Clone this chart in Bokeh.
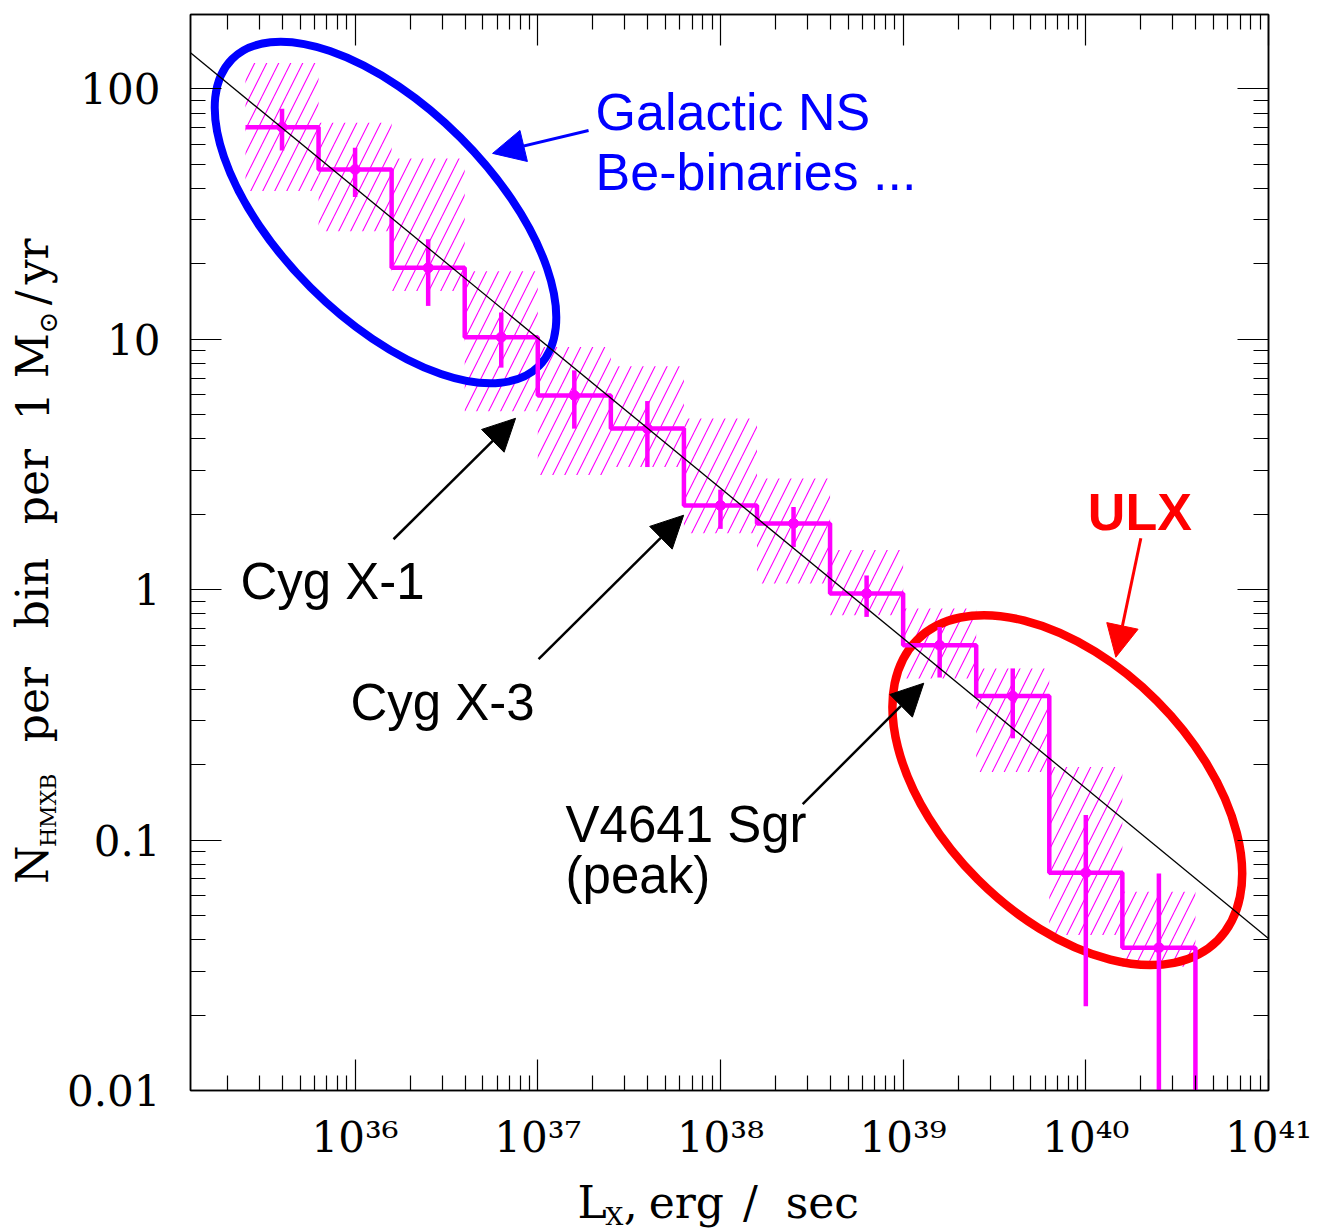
import math
from bokeh.plotting import figure
from bokeh.layouts import row, column
from bokeh.models import (FixedTicker, LogAxis, Label, Arrow, NormalHead,
                          PrintfTickFormatter, CustomJSTickFormatter, Range1d)
from bokeh.embed import file_html
from bokeh.resources import INLINE

# ---------------- data ----------------
bin_edges_log = [35.4, 35.8, 36.2, 36.6, 37.0, 37.4, 37.8, 38.2, 38.6, 39.0, 39.4, 39.8, 40.2, 40.6]
bin_centers_log = [35.6, 36.0, 36.4, 36.8, 37.2, 37.6, 38.0, 38.4, 38.8, 39.2, 39.6, 40.0, 40.4]
n_hmxb = [70.4, 47.7, 19.3, 10.2, 5.97, 4.40, 2.17, 1.84, 0.966, 0.600, 0.376, 0.0741, 0.0372]
err_high = [83.4, 58.2, 25.1, 12.8, 7.52, 5.67, 2.51, 2.14, 1.14, 0.71, 0.485, 0.126, 0.0736]
err_low = [56.8, 37.0, 13.6, 7.71, 4.40, 3.09, 1.75, 1.48, 0.779, 0.446, 0.255, 0.0217, 1e-4]
band_high = [127.0, 73.3, 52.8, 18.7, 9.32, 7.80, 4.83, 2.78, 1.44, 0.841, 0.485, 0.196, 0.0622]
band_low = [39.1, 27.0, 15.6, 5.16, 2.87, 3.09, 1.68, 1.06, 0.79, 0.442, 0.187, 0.0418, 0.0312]
histogram_floor = 1e-4          # histogram drops to zero after the last bin
model_lx = [10 ** 35.099, 1e41]  # power-law model line end points
model_n = [139.5, 0.0405]
x_major_exponents = [36, 37, 38, 39, 40, 41]
y_major_ticks = [0.01, 0.1, 1, 10, 100]

# ---------------- derived arrays ----------------
edges = [10 ** e for e in bin_edges_log]
centers = [10 ** c for c in bin_centers_log]
step_x = edges
step_y = n_hmxb + [histogram_floor]

x_major = [10.0 ** e for e in x_major_exponents]
x_minor = [k * 10.0 ** n for n in range(35, 41) for k in range(2, 10) if k * 10.0 ** n > 10 ** 35.099]
y_minor = [k * 10.0 ** n for n in range(-2, 3) for k in range(2, 10) if k * 10.0 ** n < 198]

MAG = "#FF00FF"
SERIF = "DejaVu Serif"
SANS = "Liberation Sans"
MID = 0.346    # distance (em) from the alphabetic baseline up to the text-box middle

YT_W = 63      # width of the strip holding the y-axis title
W, H = 1329, 1232
FW, FH = 1078, 1076
LEFT, RIGHT, TOP = 190 - YT_W, 61, 14
BOTTOM = 80
XT_H = H - TOP - FH - BOTTOM

xr = Range1d(10 ** 35.099, 1e41)
yr = Range1d(0.01, 10 ** 2.2974)

p = figure(x_axis_type="log", y_axis_type="log", x_range=xr, y_range=yr,
           frame_width=FW, frame_height=FH,
           min_border_left=LEFT, min_border_right=RIGHT, min_border_top=TOP,
           min_border_bottom=BOTTOM,
           output_backend="svg", toolbar_location=None)
p.grid.visible = False
p.outline_line_color = "black"
p.outline_line_width = 1.5
p.background_fill_color = "white"
p.border_fill_color = "white"

def style_axis(ax, labels=True):
    ax.major_tick_in = 31
    ax.major_tick_out = 0
    ax.minor_tick_in = 15
    ax.minor_tick_out = 0
    ax.major_tick_line_color = "black"
    ax.minor_tick_line_color = "black"
    ax.major_tick_line_width = 1.2
    ax.minor_tick_line_width = 1.2
    ax.axis_line_color = "black"
    ax.axis_line_width = 1.5
    ax.major_label_text_font = SERIF
    if labels:
        ax.major_label_text_font_size = "42px"
        ax.major_label_text_color = "black"
    else:
        ax.major_label_text_font_size = "8px"
        ax.major_label_text_alpha = 0
        ax.major_label_standoff = 0
        ax.formatter = CustomJSTickFormatter(code="return '';")

p.xaxis[0].ticker = FixedTicker(ticks=x_major, minor_ticks=x_minor)
p.yaxis[0].ticker = FixedTicker(ticks=y_major_ticks, minor_ticks=y_minor)
p.yaxis[0].formatter = PrintfTickFormatter(format="%g")
p.xaxis[0].formatter = CustomJSTickFormatter(code="""
const s = ['\\u2070','\\u00b9','\\u00b2','\\u00b3','\\u2074','\\u2075','\\u2076','\\u2077','\\u2078','\\u2079'];
const e = Math.round(Math.log10(tick));
return '10' + String(e).split('').map(c => s[parseInt(c)]).join('');
""")
style_axis(p.xaxis[0])
style_axis(p.yaxis[0])
p.xaxis[0].major_label_standoff = 22
p.yaxis[0].major_label_standoff = 30

top_ax = LogAxis(ticker=FixedTicker(ticks=x_major, minor_ticks=x_minor))
right_ax = LogAxis(ticker=FixedTicker(ticks=y_major_ticks, minor_ticks=y_minor))
style_axis(top_ax, labels=False)
style_axis(right_ax, labels=False)
p.add_layout(top_ax, "above")
p.add_layout(right_ax, "right")

# hatched uncertainty bands
p.quad(left=edges[:-1], right=edges[1:], bottom=band_low, top=band_high,
       fill_alpha=0, line_color=None, hatch_pattern="/", hatch_color=MAG,
       hatch_scale=24, hatch_weight=1.1)

# ellipses
p.ellipse(x=[10 ** 36.1665], y=[32.1], width=[434], height=[212], angle=-math.pi / 4,
          width_units="screen", height_units="screen",
          fill_color=None, line_color="#0000FF", line_width=8)
p.ellipse(x=[10 ** 39.8987], y=[0.1583], width=[425], height=[253], angle=-math.pi / 4,
          width_units="screen", height_units="screen",
          fill_color=None, line_color="#FF0000", line_width=8.5)

# histogram
p.step(step_x, step_y, mode="after", line_color=MAG, line_width=4.5)
p.segment(x0=centers, y0=err_low, x1=centers, y1=err_high, line_color=MAG, line_width=4.5)
p.scatter(centers, n_hmxb, size=10, color=MAG)

# power-law model
p.line(model_lx, model_n, line_color="black", line_width=1.3)

# arrows
def arrow(x0, y0, x1, y1, color, width):
    p.add_layout(Arrow(x_start=x0, y_start=y0, x_end=x1, y_end=y1,
                       line_color=color, line_width=width,
                       end=NormalHead(size=32, fill_color=color, line_color=color, line_width=1)))

arrow(10 ** 37.278, 68.3, 10 ** 36.7525, 55.3, "#0000FF", 3)
arrow(10 ** 36.2103, 1.591, 10 ** 36.8784, 4.837, "black", 2.5)
arrow(10 ** 37.0044, 0.528, 10 ** 37.7985, 1.984, "black", 2.5)
arrow(10 ** 38.4502, 0.1392, 10 ** 39.1128, 0.4233, "black", 2.5)
arrow(10 ** 40.3012, 1.605, 10 ** 40.1643, 0.5376, "#FF0000", 3)

def text(fig, t, x, y, size, color="black", font=SANS, style="normal", rotated=False):
    # (x, y) is the left end of the text's baseline
    if rotated:
        xo, yo, ang = -MID * size, 0, math.pi / 2
    else:
        xo, yo, ang = 0, MID * size, 0.0
    fig.add_layout(Label(x=x, y=y, text=t, text_font=font, text_font_size=f"{size}px",
                         text_color=color, text_font_style=style, angle=ang,
                         x_offset=xo, y_offset=yo,
                         text_align="left", text_baseline="middle"))

# annotations
text(p, "Galactic NS", 10 ** 37.3165, 68.3, 52, "#0000FF")
text(p, "Be-binaries ...", 10 ** 37.3165, 39.33, 52, "#0000FF")
text(p, "ULX", 10 ** 40.011, 1.728, 52, "#FF0000", style="bold")
text(p, "Cyg X-1", 10 ** 35.3724, 0.9165, 51)
text(p, "Cyg X-3", 10 ** 35.9748, 0.3013, 51)
text(p, "V4641 Sgr", 10 ** 37.1522, 0.0982, 51)
text(p, "(peak)", 10 ** 37.1522, 0.0614, 51)

# ---------------- axis-title strips ----------------
def strip(**kw):
    f = figure(x_axis_location=None, y_axis_location=None,
               output_backend="svg", toolbar_location=None, **kw)
    f.grid.visible = False
    f.outline_line_color = None
    f.background_fill_color = "white"
    f.border_fill_color = "white"
    return f

# y title: shares the main y scale, x in pixels (0 .. YT_W)
ytitle = strip(y_axis_type="log", y_range=yr, x_range=Range1d(0, YT_W),
               frame_width=YT_W, frame_height=FH,
               min_border_left=0, min_border_right=0,
               min_border_top=TOP, min_border_bottom=H - TOP - FH)
text(ytitle, "N", 47, 0.0668, 44, font=SERIF, rotated=True)
text(ytitle, "HMXB", 56, 0.0938, 22, font=SERIF, rotated=True)
text(ytitle, "per", 47, 0.2461, 44, font=SERIF, rotated=True)
text(ytitle, "bin", 47, 0.7021, 44, font=SERIF, rotated=True)
text(ytitle, "per", 47, 1.826, 44, font=SERIF, rotated=True)
text(ytitle, "1", 47, 4.750, 44, font=SERIF, rotated=True)
text(ytitle, "M", 47, 6.988, 44, font=SERIF, rotated=True)
text(ytitle, "\u2299", 56, 10.56, 26, font=SERIF, rotated=True)
text(ytitle, "/", 47, 13.67, 44, font=SERIF, rotated=True)
text(ytitle, "yr", 47, 16.58, 44, font=SERIF, rotated=True)

# x title: shares the main x scale, y in pixels from the strip top
xtitle = strip(x_axis_type="log", x_range=xr, y_range=Range1d(XT_H, 0),
               frame_width=FW, frame_height=XT_H,
               min_border_left=LEFT, min_border_right=RIGHT,
               min_border_top=0, min_border_bottom=0)
top_px = TOP + FH + BOTTOM
text(xtitle, "L", 1.652e37, 1217 - top_px, 44, font=SERIF)
text(xtitle, "X", 2.351e37, 1225 - top_px, 25, font=SERIF)
text(xtitle, ",", 2.951e37, 1217 - top_px, 44, font=SERIF)
text(xtitle, "erg", 4.045e37, 1217 - top_px, 44, font=SERIF)
text(xtitle, "/", 1.330e38, 1217 - top_px, 44, font=SERIF)
text(xtitle, "sec", 2.275e38, 1217 - top_px, 44, font=SERIF)

layout = row(ytitle, column(p, xtitle, spacing=0), spacing=0)
open("out.html", "w", encoding="utf-8").write(file_html(layout, INLINE))
